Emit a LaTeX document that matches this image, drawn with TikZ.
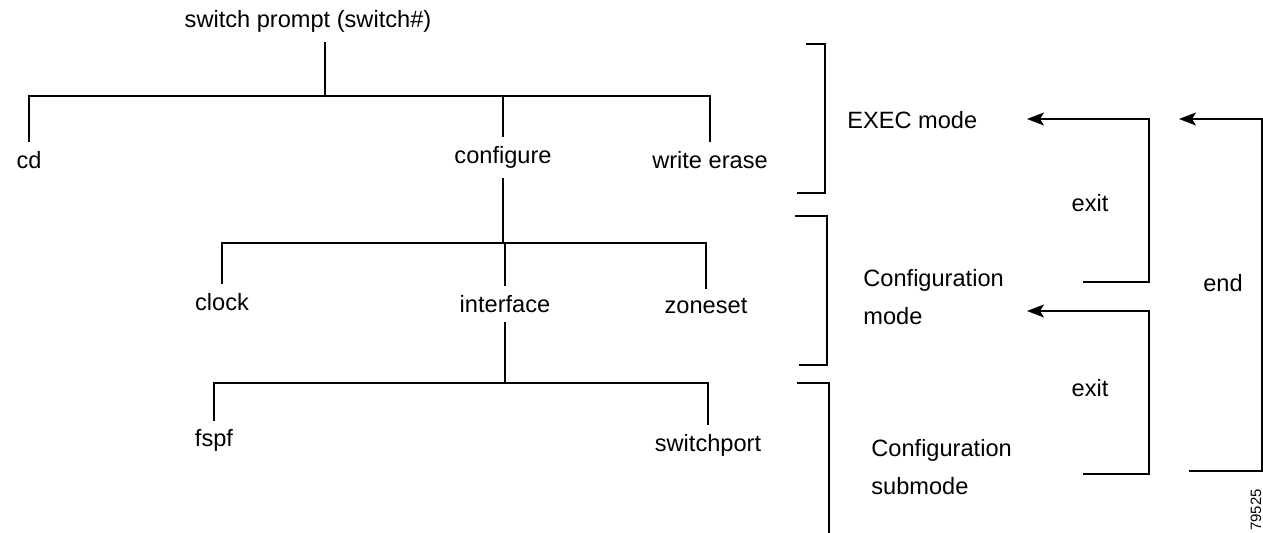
\documentclass[tikz,border=0pt]{standalone}
\usepackage{fontspec}
\setmainfont{Liberation Sans}
\usetikzlibrary{arrows.meta,positioning}

\begin{document}
\begin{tikzpicture}[x=0.5pt,y=-0.5pt,
    lbl/.style={font=\fontsize{11.8}{19}\selectfont, inner xsep=2pt, inner ysep=4.5pt, anchor=base},
    tree/.style={line width=0.65pt},
    back/.style={line width=0.65pt, -{Stealth[length=8.5pt,width=6.5pt,inset=2pt]}}]
\useasboundingbox (0,0) rectangle (1263,533);

%% command tree
\node[lbl] (prompt) at (308,28) {switch prompt (switch\#)};
\node[lbl] (cd) at (29,168.5) {cd};
\node[lbl] (configure) at (503,164) {configure};
\node[lbl] (werase) at (710,168.5) {write erase};
\node[lbl] (clock) at (222,310.5) {clock};
\node[lbl] (interface) at (505,312.5) {interface};
\node[lbl] (zoneset) at (706,314) {zoneset};
\node[lbl] (fspf) at (214,447) {fspf};
\node[lbl] (switchport) at (708,452) {switchport};

\coordinate (bar1) at (325,96);
\coordinate (bar2) at (504,243);
\coordinate (bar3) at (501,383);

\draw[tree] (prompt.south -| bar1) -- (bar1);
\draw[tree] (cd.north) |- (bar1) -| (werase.north);
\draw[tree] (configure.north) -- (configure.north |- bar1);

\draw[tree] (configure.south) -- (configure.south |- bar2);
\draw[tree] (clock.north) |- (bar2) -| (zoneset.north);
\draw[tree] (interface.north) -- (interface.north |- bar2);

\draw[tree] (interface.south) -- (interface.south |- bar3);
\draw[tree] (fspf.north) |- (bar3) -| (switchport.north);

%% mode brackets
\draw[tree] (806,44) -| (825,193) -- (797,193);
\draw[tree] (795,216) -| (827,365) -- (799,365);
\draw[tree] (797,383) -| (829,533);

%% mode labels (base = last line)
\node[lbl, anchor=base west] (exec) at (843,128.5) {EXEC mode};
\node[lbl, anchor=base west, align=left] (cfgmode) at (859,325) {Configuration\\mode};
\node[lbl, anchor=base west, align=left] (submode) at (867,495) {Configuration\\submode};

%% exit / end
\coordinate (execin) at (1027,119);
\coordinate (cfgin) at (1027,311);
\coordinate (endin) at (1179,119);
\coordinate (cfgout) at (1083,282);
\coordinate (subout) at (1083,474);
\coordinate (endout) at (1189,471);

\draw[back] (cfgout) -- ++(66,0) |- (execin);
\draw[back] (subout) -- ++(66,0) |- (cfgin);
\draw[back] (endout) -- ++(73,0) |- (endin);

\node[lbl] (exit1) at (1090,211.5) {exit};
\node[lbl] (exit2) at (1090,396.5) {exit};
\node[lbl] (endlbl) at (1223,291.5) {end};

\node[rotate=90, font=\fontsize{7.5}{9}\selectfont, inner sep=0pt] (figid) at (1256,510) {79525};
\end{tikzpicture}
\end{document}
